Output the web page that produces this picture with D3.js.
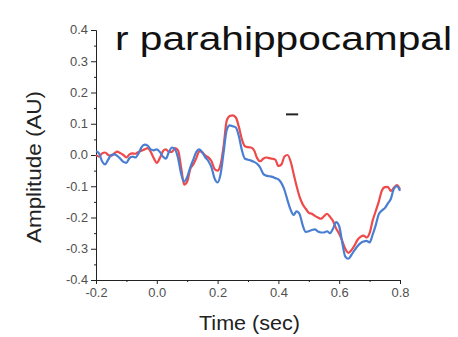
<!DOCTYPE html>
<html>
<head>
<meta charset="utf-8">
<script src="https://cdn.jsdelivr.net/npm/d3@7"></script>
<style>
  body { margin: 0; background: #fff; }
  text { font-family: "Liberation Sans", Arial, sans-serif; }
</style>
</head>
<body>
<div id="chart"></div>
<script>
// time points (sec)
var time = [-0.20,-0.19,-0.18,-0.17,-0.16,-0.15,-0.14,-0.13,-0.12,-0.11,
            -0.10,-0.09,-0.08,-0.07,-0.06,-0.05,-0.04,-0.03,-0.02,-0.01,
             0.00, 0.01, 0.02, 0.03, 0.04, 0.05, 0.06, 0.07, 0.08, 0.09,
             0.10, 0.11, 0.12, 0.13, 0.14, 0.15, 0.16, 0.17, 0.18, 0.19,
             0.20, 0.21, 0.22, 0.23, 0.24, 0.25, 0.26, 0.27, 0.28, 0.29,
             0.30, 0.31, 0.32, 0.33, 0.34, 0.35, 0.36, 0.37, 0.38, 0.39,
             0.40, 0.41, 0.42, 0.43, 0.44, 0.45, 0.46, 0.47, 0.48, 0.49,
             0.50, 0.51, 0.52, 0.53, 0.54, 0.55, 0.56, 0.57, 0.58, 0.59,
             0.60, 0.61, 0.62, 0.63, 0.64, 0.65, 0.66, 0.67, 0.68, 0.69,
             0.70, 0.71, 0.72, 0.73, 0.74, 0.75, 0.76, 0.77, 0.78, 0.79, 0.80];

// red condition
var redValues = [0.000,-0.005,0.005,0.008,0.000,-0.003,0.005,0.011,0.006,0.000,
                 -0.008,0.002,0.005,0.004,0.010,0.014,0.018,0.022,0.010,-0.010,
                 -0.025,-0.010,0.012,0.018,0.010,0.010,0.022,0.015,-0.040,-0.095,
                 -0.085,-0.045,-0.030,-0.010,0.012,0.008,-0.002,-0.008,-0.020,-0.045,
                 -0.050,-0.030,0.030,0.110,0.125,0.127,0.120,0.090,0.050,0.028,
                 0.025,0.024,0.015,-0.010,-0.020,-0.012,-0.008,-0.010,-0.012,-0.015,
                 -0.035,-0.030,-0.005,0.000,-0.020,-0.060,-0.100,-0.135,-0.158,-0.172,
                 -0.185,-0.188,-0.195,-0.200,-0.204,-0.196,-0.188,-0.198,-0.212,-0.235,
                 -0.252,-0.275,-0.300,-0.313,-0.305,-0.290,-0.272,-0.262,-0.258,-0.264,
                 -0.250,-0.210,-0.180,-0.150,-0.115,-0.103,-0.102,-0.115,-0.105,-0.096,-0.110];

// blue condition
var blueValues = [0.012,0.005,-0.020,-0.030,-0.015,0.000,0.002,-0.003,-0.012,-0.022,
                  -0.025,-0.010,-0.005,-0.008,0.005,0.025,0.033,0.030,0.018,0.015,
                  0.018,0.010,-0.005,-0.012,0.010,0.024,0.018,-0.010,-0.060,-0.085,
                  -0.070,-0.040,-0.015,0.010,0.018,0.008,-0.008,-0.020,-0.040,-0.075,
                  -0.088,-0.060,0.010,0.080,0.095,0.092,0.088,0.060,0.015,-0.012,
                  -0.015,-0.018,-0.022,-0.028,-0.040,-0.060,-0.066,-0.068,-0.070,-0.074,
                  -0.078,-0.090,-0.112,-0.145,-0.175,-0.192,-0.180,-0.190,-0.225,-0.246,
                  -0.244,-0.240,-0.238,-0.245,-0.248,-0.248,-0.244,-0.250,-0.235,-0.215,
                  -0.228,-0.280,-0.325,-0.332,-0.320,-0.305,-0.292,-0.282,-0.277,-0.275,
                  -0.280,-0.255,-0.225,-0.190,-0.178,-0.170,-0.155,-0.140,-0.108,-0.100,-0.115];

// significance bar
var sigStart = [0.425], sigEnd = [0.465], sigLevel = [0.13];

var xTicks = [-0.2, 0.0, 0.2, 0.4, 0.6, 0.8];
var xMinorTicks = [-0.1, 0.1, 0.3, 0.5, 0.7];
var yTicks = [-0.4, -0.3, -0.2, -0.1, 0.0, 0.1, 0.2, 0.3, 0.4];
var yMinorTicks = [-0.35, -0.25, -0.15, -0.05, 0.05, 0.15, 0.25, 0.35];

var width = 458, height = 337;

var svg = d3.select("#chart").append("svg")
    .attr("width", width)
    .attr("height", height);

var x = d3.scaleLinear().domain([-0.2, 0.8]).range([96, 400]);
var y = d3.scaleLinear().domain([-0.4, 0.4]).range([280, 30]);

//////////////////// axes ////////////////////
var yAxis = svg.append("g")
    .attr("transform", "translate(96,0)")
    .call(d3.axisLeft(y).tickValues(yTicks).tickSize(5).tickSizeOuter(0)
        .tickFormat(d3.format(".1f")));
svg.append("g")
    .attr("transform", "translate(96,0)")
    .call(d3.axisLeft(y).tickValues(yMinorTicks).tickSize(2).tickSizeOuter(0).tickFormat(""));

var xAxis = svg.append("g")
    .attr("transform", "translate(0,280)")
    .call(d3.axisBottom(x).tickValues(xTicks).tickSize(4).tickSizeOuter(0)
        .tickFormat(d3.format(".1f")));
svg.append("g")
    .attr("transform", "translate(0,280)")
    .call(d3.axisBottom(x).tickValues(xMinorTicks).tickSize(2).tickSizeOuter(0).tickFormat(""));

svg.selectAll(".domain, .tick line").attr("stroke", "#222").attr("stroke-width", 1);
// plain hyphen instead of unicode minus, like the original
svg.selectAll(".tick text").text(function() { return this.textContent.replace("\u2212", "-"); });
svg.selectAll(".tick text")
    .attr("font-size", 12)
    .attr("fill", "#505050")
    .attr("font-family", "'Liberation Sans', Arial, sans-serif")
    .attr("textLength", function() { return this.textContent.length > 3 ? 22 : 18; })
    .attr("lengthAdjust", "spacingAndGlyphs");
yAxis.selectAll(".tick text").attr("x", -8);
xAxis.selectAll(".tick text").attr("y", 8);

//////////////////// lines ////////////////////
var redLine = d3.line()
    .x(function(d, i) { return x(time[i]); })
    .y(function(d) { return y(d); })
    .curve(d3.curveMonotoneX);

svg.append("path")
    .datum(redValues)
    .attr("d", redLine)
    .attr("fill", "none")
    .attr("stroke", "#ee4a4a")
    .attr("stroke-width", 2.2)
    .attr("stroke-linejoin", "round");

svg.append("path")
    .datum(blueValues)
    .attr("d", redLine)
    .attr("fill", "none")
    .attr("stroke", "#4a7ed2")
    .attr("stroke-width", 2.2)
    .attr("stroke-linejoin", "round");

// significance marker
svg.selectAll(".sig")
    .data(sigStart)
    .enter().append("line")
    .attr("class", "sig")
    .attr("x1", function(d) { return x(d); })
    .attr("x2", function(d, i) { return x(sigEnd[i]); })
    .attr("y1", function(d, i) { return y(sigLevel[i]); })
    .attr("y2", function(d, i) { return y(sigLevel[i]); })
    .attr("stroke", "#222")
    .attr("stroke-width", 2);

//////////////////// labels ////////////////////
svg.append("text")
    .attr("x", 115)
    .attr("y", 50)
    .attr("font-size", 34)
    .attr("textLength", 337)
    .attr("lengthAdjust", "spacingAndGlyphs")
    .attr("fill", "#111")
    .text("r parahippocampal");

svg.append("text")
    .attr("x", 199)
    .attr("y", 330)
    .attr("font-size", 20)
    .attr("textLength", 101)
    .attr("lengthAdjust", "spacingAndGlyphs")
    .attr("fill", "#222")
    .text("Time (sec)");

svg.append("text")
    .attr("transform", "translate(41,243) rotate(-90)")
    .attr("font-size", 20)
    .attr("textLength", 152)
    .attr("lengthAdjust", "spacingAndGlyphs")
    .attr("fill", "#222")
    .text("Amplitude (AU)");
</script>
</body>
</html>
